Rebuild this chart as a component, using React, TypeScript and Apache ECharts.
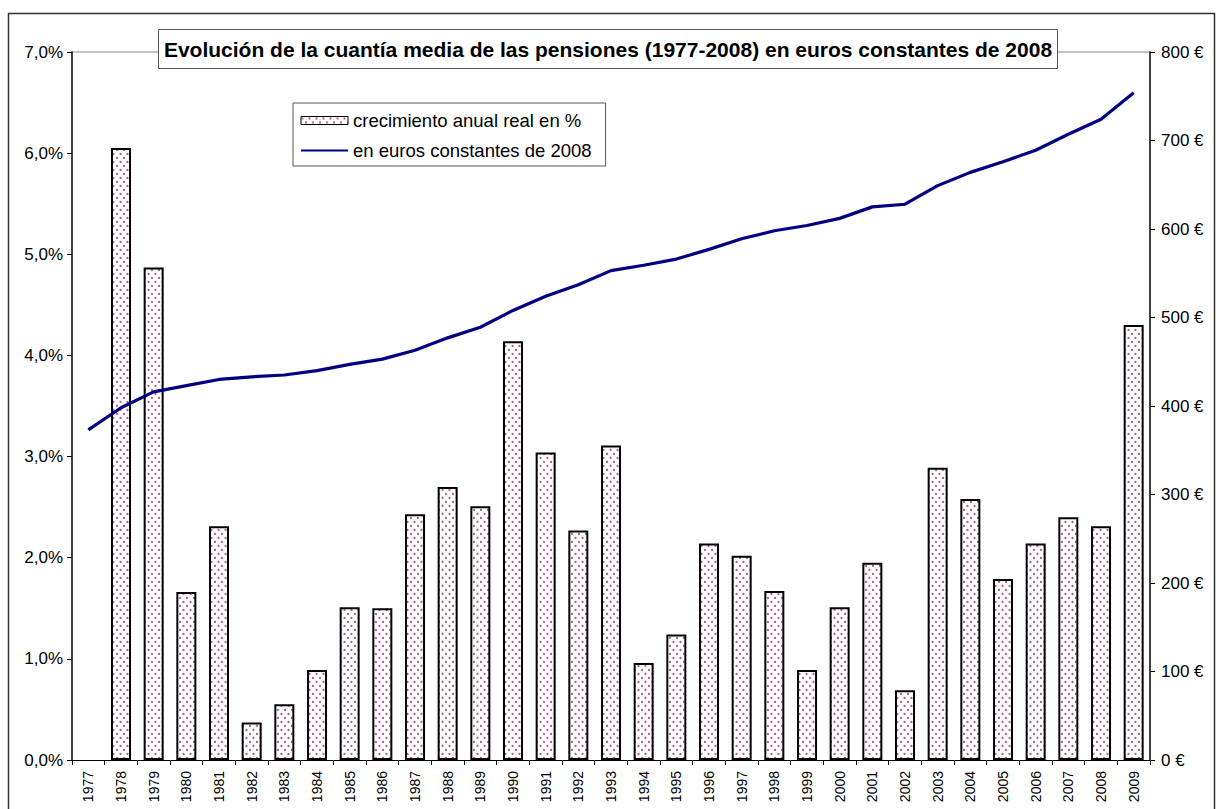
import React, { useEffect, useRef } from "react";
import * as echarts from "echarts";

const years = ["1977","1978","1979","1980","1981","1982","1983","1984","1985","1986","1987","1988","1989","1990","1991","1992","1993","1994","1995","1996","1997","1998","1999","2000","2001","2002","2003","2004","2005","2006","2007","2008","2009"];
const growthPct = [null,6.05,4.87,1.66,2.31,0.37,0.55,0.89,1.51,1.50,2.43,2.70,2.51,4.14,3.04,2.27,3.11,0.96,1.24,2.14,2.02,1.67,0.89,1.51,1.95,0.69,2.89,2.58,1.79,2.14,2.40,2.31,4.30];
const euros2008 = [373,398,416,423,430,433,435,440,447,453,463,477,489,508,524,537,553,559,566,577,589,598,604,612,625,628,649,664,676,689,707,724,754];

const titleText = "Evolución de la cuantía media de las pensiones (1977-2008) en euros constantes de 2008";
const barName = "crecimiento anual real en %";
const lineName = "en euros constantes de 2008";

function makePattern() {
  const c = document.createElement("canvas");
  c.width = 7;
  c.height = 8;
  const ctx = c.getContext("2d")!;
  ctx.fillStyle = "#ffffff";
  ctx.fillRect(0, 0, 7, 8);
  ctx.fillStyle = "#b8608e";
  ctx.beginPath();
  ctx.arc(1.5, 2, 1.15, 0, Math.PI * 2);
  ctx.fill();
  ctx.beginPath();
  ctx.arc(5, 6, 1.15, 0, Math.PI * 2);
  ctx.fill();
  return c;
}

export default function App() {
  const ref = useRef<HTMLDivElement>(null);
  useEffect(() => {
    document.body.style.margin = "0";
    const chart = echarts.init(ref.current!, null, { renderer: "svg" });
    const font = "Arial, 'Liberation Sans', sans-serif";
    const pattern = { image: makePattern(), repeat: "repeat" };
    chart.setOption({
      animation: false,
      textStyle: { fontFamily: font },
      title: {
        text: titleText,
        left: "center",
        top: 29,
        padding: [10, 6, 9, 6],
        backgroundColor: "#fff",
        borderColor: "#555",
        borderWidth: 1,
        textStyle: { fontFamily: font, fontSize: 21, fontWeight: "bold", color: "#000" },
      },
      legend: {
        orient: "vertical",
        left: 293,
        top: 103,
        padding: [8, 14, 6, 7],
        itemGap: 11,
        borderColor: "#555",
        borderWidth: 1,
        backgroundColor: "#fff",
        textStyle: { fontFamily: font, fontSize: 18.5, color: "#000" },
        data: [
          { name: barName, icon: "rect", itemStyle: { color: pattern, borderColor: "#000", borderWidth: 1 } },
          { name: lineName, itemStyle: { color: "rgba(0,0,0,0)", borderWidth: 0, opacity: 0 } },
        ],
        itemWidth: 47,
        itemHeight: 8,
      },
      graphic: [
        { type: "rect", shape: { x: 8.5, y: 13.5, width: 1206, height: 820 }, style: { fill: "none", stroke: "#333", lineWidth: 1.5 }, silent: true, z: -1 },
        { type: "line", shape: { x1: 72, y1: 52, x2: 1150, y2: 52 }, style: { stroke: "#888", lineWidth: 1 }, silent: true, z: 0 },
      ],
      grid: { left: 72, right: 66, top: 52, bottom: 49, containLabel: false },
      xAxis: {
        type: "category",
        data: years,
        boundaryGap: true,
        axisLine: { lineStyle: { color: "#000", width: 1 } },
        axisTick: { show: true, alignWithLabel: false, length: 5, lineStyle: { color: "#000" } },
        axisLabel: { rotate: 90, fontSize: 14, color: "#000", margin: 11, interval: 0, fontFamily: font },
        splitLine: { show: false },
      },
      yAxis: [
        {
          type: "value",
          min: 0,
          max: 7,
          interval: 1,
          position: "left",
          axisLine: { show: true, lineStyle: { color: "#000", width: 1.5 } },
          axisTick: { show: true, length: 5, lineStyle: { color: "#000" } },
          splitLine: { show: false },
          axisLabel: {
            color: "#000",
            fontSize: 17,
            margin: 9,
            fontFamily: font,
            formatter: (v: number) => v.toFixed(1).replace(".", ",") + "%",
          },
        },
        {
          type: "value",
          min: 0,
          max: 800,
          interval: 100,
          position: "right",
          axisLine: { show: true, lineStyle: { color: "#000", width: 1.5 } },
          axisTick: { show: true, length: 5, lineStyle: { color: "#000" } },
          splitLine: { show: false },
          axisLabel: {
            color: "#000",
            fontSize: 17,
            margin: 11,
            fontFamily: font,
            formatter: (v: number) => v + " €",
          },
        },
      ],
      series: [
        {
          name: barName,
          type: "bar",
          yAxisIndex: 0,
          data: growthPct,
          barWidth: 20,
          itemStyle: { color: pattern, borderColor: "#000", borderWidth: 2 },
        },
        {
          name: lineName,
          type: "line",
          yAxisIndex: 1,
          data: euros2008,
          showSymbol: false,
          symbol: "none",
          lineStyle: { color: "#000080", width: 3.2 },
          itemStyle: { color: "#000080" },
          z: 5,
        },
      ],
    });
    return () => chart.dispose();
  }, []);
  return <div ref={ref} style={{ width: 1216, height: 809 }} />;
}
